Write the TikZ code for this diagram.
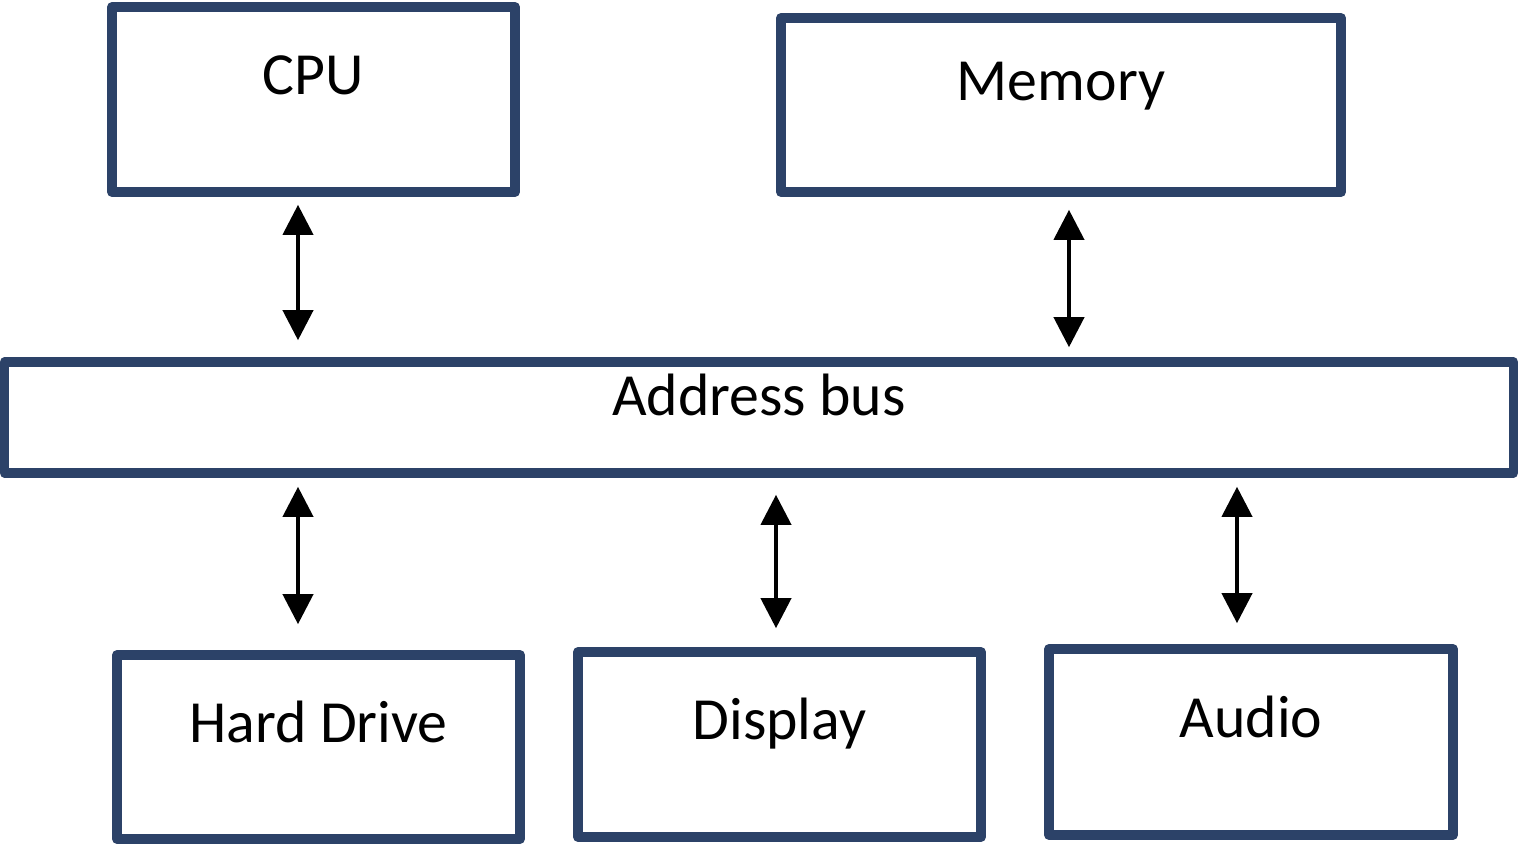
\documentclass[tikz,border=0pt]{standalone}
\usepackage{fontspec}
\setmainfont{Carlito}
\usetikzlibrary{arrows.meta}
\definecolor{boxblue}{RGB}{44,66,104}
\tikzset{
	unit/.style={draw=boxblue,line width=0.095cm,line join=round,fill=white,text height=0.4cm,text depth=0.495cm,inner sep=0pt},
	dblarrow/.style={{Triangle[width=0.3cm,length=0.3cm]}-{Triangle[width=0.3cm,length=0.3cm]},line width=0.04cm}
}
\begin{document}
\begin{tikzpicture}[x=0.01cm,y=-0.01cm,font=\fontsize{17}{20}\selectfont]
	\useasboundingbox (0,0) rectangle (1518,844);

	%top row
	\node[unit,minimum width=4.03cm,minimum height=1.85cm] (cpu) at (313.5,99.5) {CPU};
	\node[unit,minimum width=5.60cm,minimum height=1.74cm] (mem) at (1061,105) {Memory};

	%bus
	\node[unit,minimum width=15.08cm,minimum height=1.11cm,text depth=0.445cm] (bus) at (759,417.5) {Address bus};

	%bottom row
	\node[unit,minimum width=4.03cm,minimum height=1.84cm] (hdd) at (318.5,747) {Hard Drive};
	\node[unit,minimum width=4.03cm,minimum height=1.85cm] (disp) at (779.5,744.5) {Display};
	\node[unit,minimum width=4.04cm,minimum height=1.86cm] (audio) at (1251,742) {Audio};

	%arrows
	\draw[dblarrow,shorten <=0.08cm,shorten >=0.17cm] (cpu.south -| 298,0) -- (bus.north -| 298,0); %cpu
	\draw[dblarrow,shorten <=0.13cm,shorten >=0.10cm] (mem.south -| 1069,0) -- (bus.north -| 1069,0); %memory
	\draw[dblarrow,shorten <=0.09cm,shorten >=0.26cm] (bus.south -| 298,0) -- (hdd.north -| 298,0); %hard drive
	\draw[dblarrow,shorten <=0.17cm,shorten >=0.19cm] (bus.south -| 776,0) -- (disp.north -| 776,0); %display
	\draw[dblarrow,shorten <=0.09cm,shorten >=0.21cm] (bus.south -| 1237,0) -- (audio.north -| 1237,0); %audio
\end{tikzpicture}
\end{document}
